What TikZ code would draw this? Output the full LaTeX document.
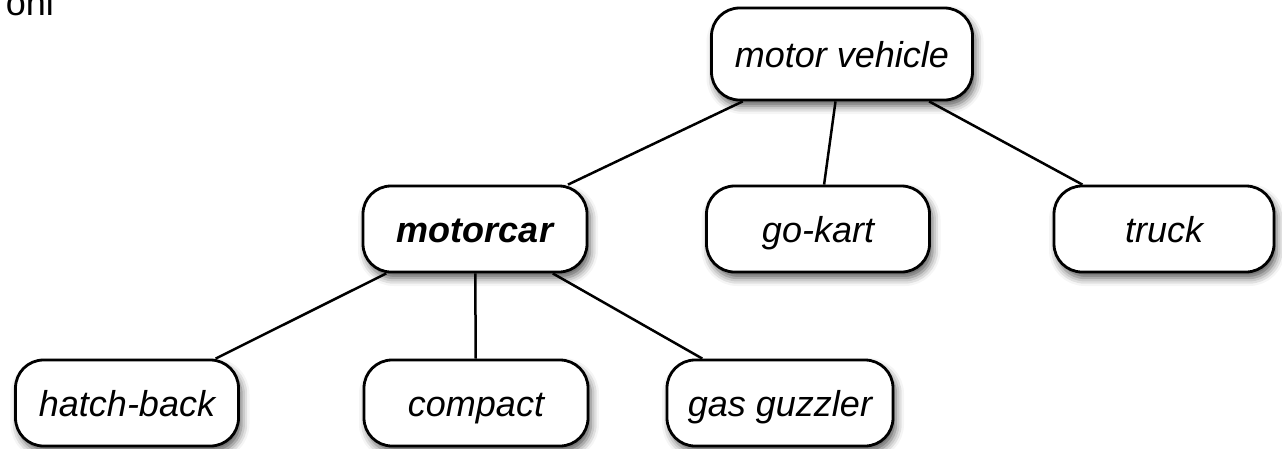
\documentclass[tikz,border=0pt]{standalone}
\usepackage{fontspec}
\setmainfont{Liberation Sans}
\usetikzlibrary{shadows.blur}
\begin{document}
\begin{tikzpicture}[x=1pt,y=-1pt,
  box/.style={draw=black, line width=2.8pt, fill=white, rounded corners=28pt,
    minimum height=86pt, inner sep=0pt, text height=34pt, text depth=8pt,
    font=\fontsize{36}{43}\selectfont\itshape,
    blur shadow={shadow xshift=3pt, shadow yshift=-6pt, shadow blur radius=8pt, shadow opacity=65}},
  link/.style={line width=2.5pt, black}]
\useasboundingbox (0,0) rectangle (1282,448);
\node[anchor=base east, font=\fontsize{36}{43}\selectfont, inner sep=0pt] (frag) at (54,15) {oni};
\node[box, minimum width=261pt, minimum height=92pt] (mv) at (842,54) {motor vehicle};
\node[box, minimum width=224pt, font=\fontsize{36}{43}\selectfont\bfseries\itshape] (mc) at (475,229) {motorcar};
\node[box, minimum width=223pt] (gk) at (818,229) {go-kart};
\node[box, minimum width=220pt] (tr) at (1164,229) {truck};
\node[box, minimum width=223pt] (hb) at (127,403) {hatch-back};
\node[box, minimum width=224pt] (cp) at (476,403) {compact};
\node[box, minimum width=226pt] (gg) at (780,403) {gas guzzler};
\draw[link] (mv) -- (mc);
\draw[link] (mv) -- (gk);
\draw[link] (mv) -- (tr);
\draw[link] (mc) -- (hb);
\draw[link] (mc) -- (cp);
\draw[link] (mc) -- (gg);
\end{tikzpicture}
\end{document}
